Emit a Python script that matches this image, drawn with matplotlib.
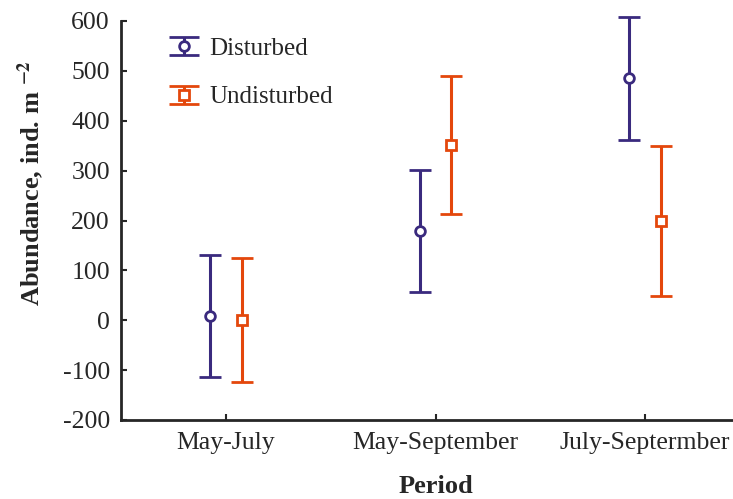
import matplotlib
matplotlib.use('Agg')
import matplotlib.pyplot as plt
import numpy as np
from matplotlib.container import ErrorbarContainer
from matplotlib.legend_handler import HandlerErrorbar
from matplotlib.lines import Line2D

plt.rcParams['font.family'] = ['Liberation Serif', 'DejaVu Serif']
plt.rcParams['mathtext.fontset'] = 'stix'
plt.rcParams['axes.unicode_minus'] = False

periods = ['May-July', 'May-September', 'July-Septermber']
disturbed_mean = [8, 179, 485]
disturbed_err = [122, 123, 124]
undisturbed_mean = [0, 352, 199]
undisturbed_err = [124, 138, 151]

c_dist = '#3A2A7E'
c_undist = '#E4470C'
txt = '#262626'

fig = plt.figure(figsize=(7.33, 4.99), dpi=100)
ax = fig.add_axes([121 / 733, 79 / 499, 629 / 733, 399 / 499])

x = np.arange(1, len(periods) + 1)
off = 0.076

for xs, m, e, fmt, c, ms, lab in [
    (x - off, disturbed_mean, disturbed_err, 'o', c_dist, 7, 'Disturbed'),
    (x + off, undisturbed_mean, undisturbed_err, 's', c_undist, 7.5, 'Undisturbed'),
]:
    eb = ax.errorbar(xs, m, yerr=e, fmt=fmt, color=c, mfc='white', mec=c,
                     mew=2, ms=ms, elinewidth=2.2, capsize=8, capthick=2.2,
                     label=lab)
    # caps above 600 should still show
    eb[0].set_clip_on(False)
    for art in list(eb[1]) + list(eb[2]):
        art.set_clip_on(False)

ax.set_xlim(0.5, 3.5)
ax.set_ylim(-200, 600)
ax.set_yticks(np.arange(-200, 601, 100))
ax.set_xticks(x)
ax.set_xticklabels(periods)

for s in ['top', 'right']:
    ax.spines[s].set_visible(False)
for s in ['left', 'bottom']:
    ax.spines[s].set_linewidth(2)
    ax.spines[s].set_color(txt)

ax.tick_params(direction='in', length=4, width=1.5, colors=txt,
               labelsize=18.5, labelcolor=txt)
ax.tick_params(axis='y', pad=8)
ax.tick_params(axis='x', pad=9)

ax.set_xlabel('Period', fontsize=19, fontweight='bold', color=txt, labelpad=15)
ax.set_ylabel(r'Abundance, ind. m $^{\mathbf{-2}}$', fontsize=19,
              fontweight='bold', color=txt)
ax.yaxis.set_label_coords(-0.117, 0.594)


def wide_caps(h, orig):
    h.update_from(orig)
    if isinstance(h, Line2D) and h.get_marker() == '_':
        h.set_markersize(22)


leg = ax.legend(loc='upper left', bbox_to_anchor=(0.041, 1.015), frameon=False,
                fontsize=18, handlelength=1.2, labelspacing=1.03, handletextpad=0.4,
                handler_map={ErrorbarContainer: HandlerErrorbar(yerr_size=0.36,
                                                                update_func=wide_caps)})
for t in leg.get_texts():
    t.set_color(txt)

fig.savefig('out.png', dpi=100)
